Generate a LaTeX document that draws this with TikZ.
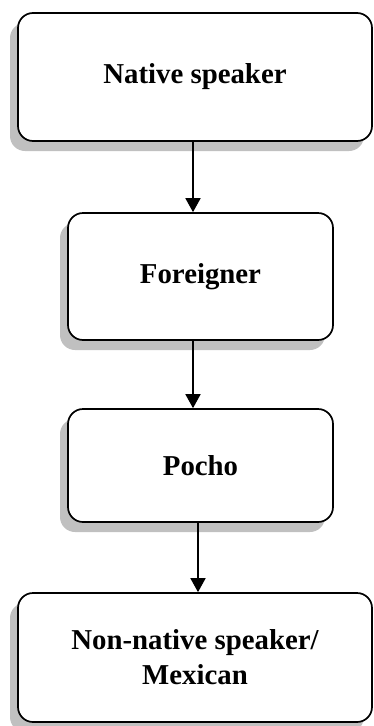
\documentclass[tikz,border=0pt]{standalone}
\usepackage{fontspec}
\setmainfont{Liberation Serif}
\usetikzlibrary{shadows,arrows.meta}
\definecolor{shadowgray}{RGB}{192,192,192}
\tikzset{
  box/.style={draw=black, line width=1.7pt, fill=white, rounded corners=15pt,
    align=center, font=\fontsize{28.8}{35}\selectfont\bfseries, inner sep=0pt,
    drop shadow={shadow xshift=-8pt, shadow yshift=-10pt, fill=shadowgray, opacity=1}},
  arr/.style={line width=1.7pt, -{Triangle[length=14pt,width=15pt]}}
}
\begin{document}
\begin{tikzpicture}[x=1pt,y=-1pt]
\useasboundingbox (0,0) rectangle (373,726);
\node[box, minimum width=354pt, minimum height=128pt] (n1) at (195,77) {Native speaker};
\node[box, minimum width=265pt, minimum height=127pt] (n2) at (200.5,276.5) {Foreigner};
\node[box, minimum width=265pt, minimum height=113pt] (n3) at (200.5,465.5) {Pocho};
\node[box, minimum width=354pt, minimum height=129pt] (n4) at (195,657.5) {Non-native speaker/\\Mexican};
\draw[arr] ([xshift=-2pt]n1.south) -- ([xshift=-2pt]n1.south |- n2.north);
\draw[arr] ([xshift=-7.5pt]n2.south) -- ([xshift=-7.5pt]n2.south |- n3.north);
\draw[arr] ([xshift=-2.5pt]n3.south) -- ([xshift=-2.5pt]n3.south |- n4.north);
\end{tikzpicture}
\end{document}
